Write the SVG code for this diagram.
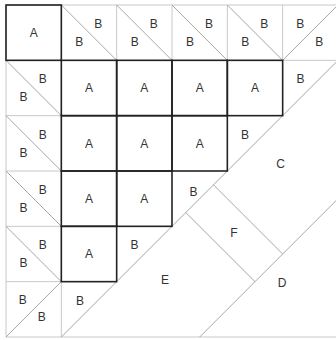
<svg xmlns="http://www.w3.org/2000/svg" width="336" height="340" viewBox="0 0 336 340">
<style>
.grid{stroke:#c8c8c8;stroke-width:1;fill:none}
.diag{stroke:#a8a8a8;stroke-width:1;fill:none}
.thick{stroke:#222;stroke-width:1.6;fill:none}
text{font-family:"Liberation Sans",Arial,sans-serif;font-size:12px;fill:#333;text-anchor:middle}
</style>
<rect width="336" height="340" fill="#fff"/>
<g id="connectors">
<path class="grid" d="M6,5H338 M6,5V337 M6,337H338 M116.67,5V60.33 M172,5V60.33 M227.33,5V60.33 M282.67,5V60.33 M6,60.33H338 M6,115.67H61.33 M6,171H61.33 M6,226.33H61.33 M6,281.67H61.33 M61.33,5V337"/>
<path class="diag" d="M61.33,5L116.67,60.33 M116.67,5L172,60.33 M172,5L227.33,60.33 M227.33,5L282.67,60.33 M282.67,60.33L338,5 M6,60.33L61.33,115.67 M6,115.67L61.33,171 M6,171L61.33,226.33 M6,226.33L61.33,281.67 M6,337L61.33,281.67"/>
<path class="diag" d="M61.33,337L338,60.33 M199.67,337L338,198.67 M185.83,212.5L255,281.67 M213.5,184.83L282.67,254"/>
</g>
<g id="A-cells">
<rect class="thick" x="6" y="5" width="55.33" height="55.33"/>
<rect class="thick" x="61.33" y="60.33" width="55.33" height="55.33"/>
<rect class="thick" x="116.67" y="60.33" width="55.33" height="55.33"/>
<rect class="thick" x="172" y="60.33" width="55.33" height="55.33"/>
<rect class="thick" x="227.33" y="60.33" width="55.33" height="55.33"/>
<rect class="thick" x="61.33" y="115.67" width="55.33" height="55.33"/>
<rect class="thick" x="116.67" y="115.67" width="55.33" height="55.33"/>
<rect class="thick" x="172" y="115.67" width="55.33" height="55.33"/>
<rect class="thick" x="61.33" y="171" width="55.33" height="55.33"/>
<rect class="thick" x="116.67" y="171" width="55.33" height="55.33"/>
<rect class="thick" x="61.33" y="226.33" width="55.33" height="55.33"/>
<text x="33.7" y="37">A</text>
<text x="89" y="92.3">A</text>
<text x="144.3" y="92.3">A</text>
<text x="199.7" y="92.3">A</text>
<text x="255" y="92.3">A</text>
<text x="89" y="147.6">A</text>
<text x="144.3" y="147.6">A</text>
<text x="199.7" y="147.6">A</text>
<text x="89" y="203">A</text>
<text x="144.3" y="203">A</text>
<text x="89" y="258.3">A</text>
</g>
<g id="B-labels">
<text x="98.3" y="28">B</text><text x="79.3" y="46">B</text>
<text x="153.7" y="28">B</text><text x="134.7" y="46">B</text>
<text x="209" y="28">B</text><text x="190" y="46">B</text>
<text x="264.3" y="28">B</text><text x="245.3" y="46">B</text>
<text x="300.3" y="28">B</text><text x="319.3" y="46">B</text>
<text x="42.7" y="83.3">B</text><text x="23.5" y="101.3">B</text>
<text x="42.7" y="138.6">B</text><text x="23.5" y="156.6">B</text>
<text x="42.7" y="194">B</text><text x="23.5" y="212">B</text>
<text x="42.7" y="249.3">B</text><text x="23.5" y="267.3">B</text>
<text x="22.7" y="304">B</text><text x="41.7" y="321">B</text>
<text x="300.5" y="83.3">B</text>
<text x="245" y="138.6">B</text>
<text x="193.5" y="196">B</text>
<text x="134.5" y="249.3">B</text>
<text x="80" y="305">B</text>
</g>
<g id="C"><text x="280.7" y="168.3">C</text></g>
<g id="D"><text x="282" y="287">D</text></g>
<g id="E"><text x="165" y="284.3">E</text></g>
<g id="F"><text x="234" y="237.3">F</text></g>
</svg>
